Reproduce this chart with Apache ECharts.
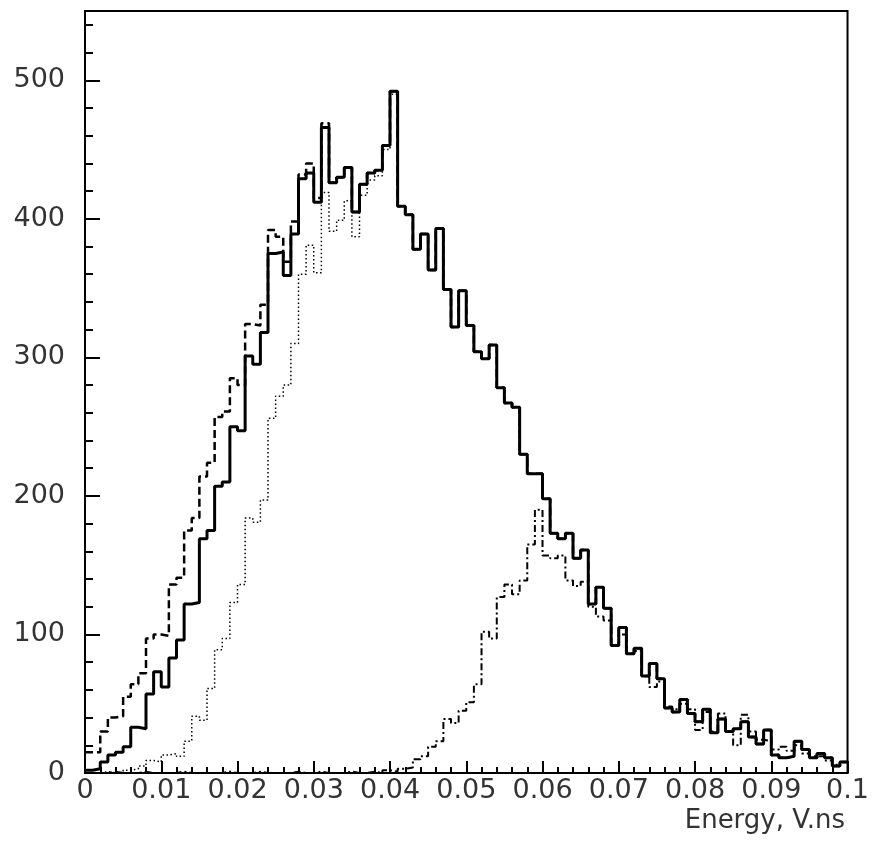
<!DOCTYPE html>
<html>
<head>
<meta charset="utf-8">
<script src="https://cdn.jsdelivr.net/npm/echarts@6/dist/echarts.min.js"></script>
<style>
  html, body { margin: 0; padding: 0; background: #fff; }
  #chart { width: 872px; height: 843px; }
</style>
</head>
<body>
<div id="chart"></div>
<script>
// histogram: 100 bins of 0.001 from 0 to 0.1
var binWidth = 0.001;
var xTicks = ['0', '0.01', '0.02', '0.03', '0.04', '0.05', '0.06', '0.07', '0.08', '0.09', '0.1'];
var yTicks = ['0', '100', '200', '300', '400', '500'];

// solid line
var solidVals = [
  2, 3, 8, 13, 15, 19, 33, 32, 57, 73,
  62, 83, 96, 122, 123, 169, 175, 207, 210, 250,
  247, 301, 295, 318, 375, 376, 359, 389, 429, 433,
  412, 466, 426, 430, 437, 405, 425, 433, 435, 453,
  492, 409, 403, 378, 389, 363, 393, 349, 322, 348,
  323, 304, 299, 309, 278, 267, 264, 230, 216, 216,
  198, 173, 169, 173, 155, 161, 122, 134, 119, 92,
  105, 86, 90, 70, 79, 68, 47, 44, 53, 43,
  37, 46, 29, 39, 30, 32, 37, 26, 21, 31,
  13, 11, 12, 23, 17, 11, 14, 11, 5, 8
];
// dashed line
var dashedVals = [
  15, 15, 30, 40, 41, 55, 64, 72, 97, 100,
  99, 136, 141, 175, 184, 214, 224, 257, 261, 285,
  280, 324, 323, 338, 392, 387, 369, 398, 432, 440,
  415, 469, 426, 430, 437, 405, 425, 433, 435, 453,
  492, 409, 403, 378, 389, 363, 393, 349, 322, 348,
  323, 304, 299, 309, 278, 267, 264, 230, 216, 216,
  198, 173, 169, 173, 155, 161, 122, 134, 119, 92,
  105, 86, 90, 70, 79, 68, 47, 44, 53, 43,
  37, 46, 29, 39, 30, 32, 37, 26, 21, 31,
  13, 11, 12, 23, 17, 11, 14, 11, 5, 8
];
// dotted line
var dottedVals = [
  0, 0, 1, 0, 0, 2, 3, 5, 9, 8,
  13, 14, 12, 23, 41, 38, 61, 89, 97, 123,
  136, 184, 181, 197, 256, 272, 280, 310, 360, 381,
  361, 419, 391, 399, 413, 387, 417, 428, 431, 450,
  490, 409, 403, 378, 389, 363, 393, 349, 322, 348,
  323, 304, 299, 309, 278, 267, 264, 230, 216, 216,
  198, 173, 169, 173, 155, 161, 122, 134, 119, 92,
  105, 86, 90, 70, 79, 68, 47, 44, 53, 43,
  37, 46, 29, 39, 30, 32, 37, 26, 21, 31,
  13, 11, 12, 23, 17, 11, 14, 11, 5, 8
];
// dash-dot line
var dashDotVals = [
  0, 0, 0, 1, 0, 0, 0, 1, 0, 0,
  0, 0, 1, 0, 0, 0, 0, 0, 1, 0,
  0, 0, 1, 0, 0, 0, 0, 1, 0, 0,
  1, 0, 0, 0, 1, 0, 0, 1, 0, 2,
  1, 3, 4, 10, 12, 19, 23, 39, 36, 45,
  51, 64, 102, 97, 127, 136, 129, 139, 165, 190,
  157, 155, 157, 139, 135, 138, 120, 113, 110, 92,
  100, 86, 88, 70, 62, 66, 48, 46, 50, 46,
  31, 44, 30, 43, 30, 20, 42, 30, 24, 23,
  17, 19, 16, 20, 14, 12, 12, 9, 6, 8
];

function histData(vals) {
  var out = vals.map(function (v, i) { return [+(i * binWidth).toFixed(3), v]; });
  out.push([+(vals.length * binWidth).toFixed(3), vals[vals.length - 1]]);
  return out;
}

var labelFont = { fontFamily: 'DejaVu Sans', fontSize: 27, color: '#333' };

var chart = echarts.init(document.getElementById('chart'));
chart.setOption({
  animation: false,
  backgroundColor: '#fff',
  title: {
    text: 'Energy, V.ns',
    right: 22, top: 803,
    textStyle: { fontFamily: 'DejaVu Sans', fontSize: 26, fontWeight: 'normal', color: '#333' }
  },
  grid: {
    left: 85, right: 22, top: 11, bottom: 70,
    show: true, borderColor: '#000', borderWidth: 2
  },
  xAxis: {
    type: 'value', min: 0, max: 0.1, interval: 0.01,
    axisLine: { lineStyle: { color: '#000', width: 2 } },
    axisTick: { inside: true, length: 12, lineStyle: { color: '#000', width: 2 } },
    minorTick: { show: true, splitNumber: 5, length: 6, lineStyle: { color: '#000', width: 2 } },
    splitLine: { show: false },
    axisLabel: Object.assign({
      margin: 4,
      formatter: function (v) { return xTicks[Math.round(v * 100)]; }
    }, labelFont)
  },
  yAxis: [{
    type: 'value', min: 0, max: 550, interval: 20,
    axisLine: { lineStyle: { color: '#000', width: 2 } },
    axisTick: { inside: true, length: 8, lineStyle: { color: '#000', width: 2 } },
    splitLine: { show: false },
    axisLabel: { show: false }
  }, {
    type: 'value', min: 0, max: 550, interval: 100, position: 'left',
    axisLine: { show: false },
    axisTick: { inside: true, length: 15, lineStyle: { color: '#000', width: 2 } },
    splitLine: { show: false },
    axisLabel: Object.assign({
      margin: 20, showMaxLabel: false,
      formatter: function (v) { return yTicks[v / 100] || ''; }
    }, labelFont)
  }],
  series: [{
    name: 'dotted', type: 'line', step: 'end', symbol: 'none',
    data: histData(dottedVals),
    lineStyle: { color: '#000', width: 1.5, type: [1.5, 2.5] }
  }, {
    name: 'dashdot', type: 'line', step: 'end', symbol: 'none',
    data: histData(dashDotVals),
    lineStyle: { color: '#000', width: 2, type: [7, 3, 2, 3] }
  }, {
    name: 'dashed', type: 'line', step: 'end', symbol: 'none',
    data: histData(dashedVals),
    lineStyle: { color: '#000', width: 2.5, type: [8, 4] }
  }, {
    name: 'solid', type: 'line', step: 'end', symbol: 'none',
    data: histData(solidVals),
    lineStyle: { color: '#000', width: 3 }
  }]
});
</script>
</body>
</html>
